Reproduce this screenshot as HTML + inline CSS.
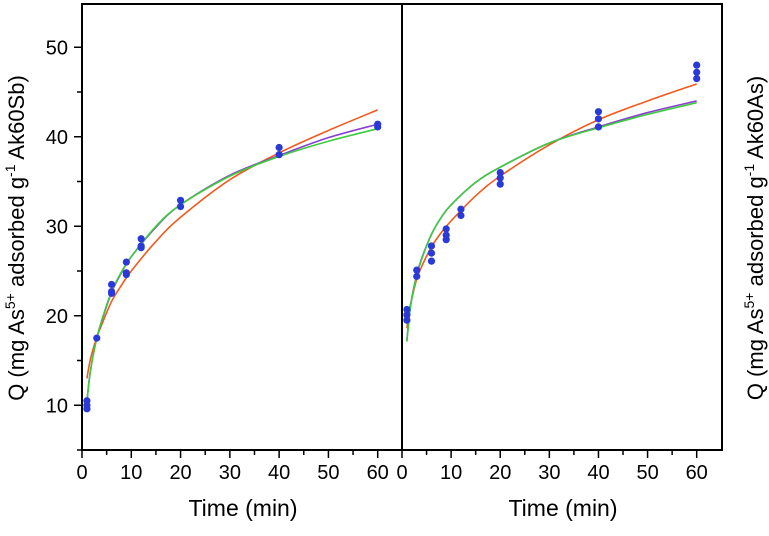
<!DOCTYPE html>
<html><head><meta charset="utf-8"><style>
html,body{margin:0;padding:0;background:#fff}
svg{display:block;font-family:"Liberation Sans",sans-serif}
</style></head><body>
<svg id="chart" width="769" height="536"></svg>
<script>
const times=[1,3,6,9,12,20,40,60];
const leftPoints=[[10.5,10,9.6],[17.5],[23.5,22.7,22.5],[26,24.8,24.6],[28.6,27.8,27.6],[32.9,32.2],[38.8,38],[41.4,41.1]];
const rightPoints=[[20.7,20.1,19.5],[25.1,24.4],[27.8,27,26.1],[29.7,29,28.5],[31.9,31.2],[36,35.4,34.7],[42.8,42,41.1],[48,47.2,46.5]];
const curveT=[1,1.5,2,3,4,6,8,10,15,20,30,40,50,60];
const leftOrange=[13,14.6,15.8,17.6,19,21.6,23.4,25,28.3,31,35.2,38.2,40.7,43];
const leftPurple=[10.5,13,14.8,17.5,19.4,22.6,24.8,26.6,29.9,32.4,35.7,37.9,39.9,41.4];
const leftGreen=[10.4,13,14.8,17.5,19.5,22.7,24.9,26.6,30,32.4,35.6,37.8,39.5,40.9];
const rightOrange=[18.6,20.6,21.9,24.1,25.5,27.7,29.3,30.6,33.4,35.6,39.1,41.9,44,45.9];
const rightPurple=[17.3,20.1,22,24.6,26.4,29.1,31,32.4,34.9,36.6,39.3,41.1,42.7,44];
const rightGreen=[17.1,20,21.9,24.5,26.3,29.1,31,32.4,34.9,36.6,39.3,41,42.5,43.8];
const xTicks=[0,10,20,30,40,50,60];
const yTicks=[10,20,30,40,50];

const NS="http://www.w3.org/2000/svg";
const svg=document.getElementById('chart');
function mk(tag,attrs,parent){const e=document.createElementNS(NS,tag);for(const k in attrs)e.setAttribute(k,attrs[k]);(parent||svg).appendChild(e);return e;}
const Y=v=>450-(v-5)*8.95;
const XL=t=>82+t*(295.7/60);
const XR=t=>402+t*(294.7/60);

function path(X,vals){
  const p=curveT.map((t,i)=>[X(t),Y(vals[i])]);
  let d=`M${p[0][0]},${p[0][1]}`;
  for(let i=0;i<p.length-1;i++){
    const p0=p[Math.max(0,i-1)],p1=p[i],p2=p[i+1],p3=p[Math.min(p.length-1,i+2)];
    const c1=[p1[0]+(p2[0]-p0[0])/6,p1[1]+(p2[1]-p0[1])/6];
    const c2=[p2[0]-(p3[0]-p1[0])/6,p2[1]-(p3[1]-p1[1])/6];
    d+=` C${c1[0]},${c1[1]} ${c2[0]},${c2[1]} ${p2[0]},${p2[1]}`;
  }
  return d;
}

const frame=mk('path',{d:'M82,4 H722 V450 H82 Z M402,4 V450',fill:'none',stroke:'#000','stroke-width':2});



for(let v=5;v<=55;v+=5){
  if(Y(v)<4)continue;
  const major=v%10===0;
  const tk=mk('line',{x1:82,x2:major?74:77,y1:Y(v),y2:Y(v),stroke:'#000','stroke-width':1.5});
  
  
}
yTicks.forEach(v=>{
  const t=mk('text',{x:68,y:Y(v)+7,'text-anchor':'end','font-size':20});
  t.textContent=v;
  
  
});
[XL,XR].forEach((X,pi)=>{
  for(let t=0;t<=60;t+=5){
    const major=t%10===0;
    const tk=mk('line',{x1:X(t),x2:X(t),y1:450,y2:major?458:455,stroke:'#000','stroke-width':1.5});
    
    
  }
  xTicks.forEach(t=>{
    const l=mk('text',{x:X(t),y:479,'text-anchor':'middle','font-size':20});
    l.textContent=t;
    
    
  });
  const ti=mk('text',{x:pi?563:243,y:516,'text-anchor':'middle','font-size':23});
  ti.textContent='Time (min)';
  
  
});

[[XL,leftOrange,'#f05a1e','left-orange-fit'],[XL,leftPurple,'#8a3fd0','left-purple-fit'],[XL,leftGreen,'#3ccc3c','left-green-fit'],
 [XR,rightOrange,'#f05a1e','right-orange-fit'],[XR,rightPurple,'#8a3fd0','right-purple-fit'],[XR,rightGreen,'#3ccc3c','right-green-fit']].forEach(c=>{
  const p=mk('path',{d:path(c[0],c[1]),fill:'none',stroke:c[2],'stroke-width':1.6});
  
  
});

[[XL,leftPoints,'left-data-point'],[XR,rightPoints,'right-data-point']].forEach(s=>{
  s[1].forEach((arr,i)=>arr.forEach(v=>{
    const c=mk('circle',{cx:s[0](times[i]),cy:Y(v),r:3.6,fill:'#2a3ad8'});
    
    
  }));
});

function ytitle(x,label,name){
  const t=mk('text',{transform:`translate(${x},${238}) rotate(-90)`,'text-anchor':'middle','font-size':22});
  t.innerHTML=`Q (mg As<tspan dy="-9" font-size="14">5+</tspan><tspan dy="9"> adsorbed g</tspan><tspan dy="-9" font-size="14">-1</tspan><tspan dy="9"> ${label})</tspan>`;
  
  
}
ytitle(24,'Ak60Sb','y-axis-title-left');
ytitle(763,'Ak60As','y-axis-title-right');
</script>
</body></html>
